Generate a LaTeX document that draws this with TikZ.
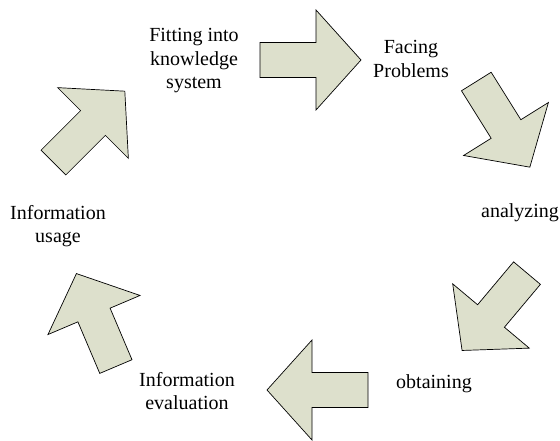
\documentclass[tikz,border=0pt]{standalone}
\usepackage{fontspec}
\setmainfont{Liberation Serif}
\usetikzlibrary{positioning, calc}

\definecolor{arrowgreen}{RGB}{221,224,204}

\tikzset{
  blockarrow/.style={draw=black, fill=arrowgreen, line width=0.7pt, line join=miter},
  steplabel/.style={align=center, inner sep=0pt, font=\fontsize{20}{23.5}\selectfont}
}

\begin{document}
\begin{tikzpicture}[x=1pt, y=-1pt]

  \useasboundingbox (0,0) rectangle (560,441);

  \def\tl{56}   % tail length
  \def\tw{17.5} % half tail width
  \def\hl{45}   % head length
  \def\hw{50}   % half head width

  % base of each arrow head
  \coordinate (AR1) at (316,60);
  \coordinate (AR2) at (506,129);
  \coordinate (AR3) at (491,316);
  \coordinate (AR4) at (312,390);
  \coordinate (AR5) at (94,315);
  \coordinate (AR6) at (93,123);

  %% arrows (y axis points down, so turn the other way)
  \foreach \c/\ang in {AR1/0, AR2/-58, AR3/-130, AR4/180, AR5/113, AR6/45}
  {
    \draw[blockarrow, shift={(\c)}, rotate=\ang]
      (-\tl,-\tw) -- (0,-\tw) -- (0,-\hw) -- (\hl,0) -- (0,\hw) -- (0,\tw) -- (-\tl,\tw) -- cycle;
  }

  %% labels
  \node[steplabel] (fitting) at (194,61) {Fitting into\\knowledge\\system};
  \node[steplabel] (facing) at (411,59) {Facing\\Problems};
  \node[steplabel] (analyzing) at (520,213) {analyzing};
  \node[steplabel] (obtaining) at (434,384) {obtaining};
  \node[steplabel] (evaluation) at (187,391) {Information\\evaluation};
  \node[steplabel] (usage) at (58,226) {Information\\usage};

\end{tikzpicture}
\end{document}
